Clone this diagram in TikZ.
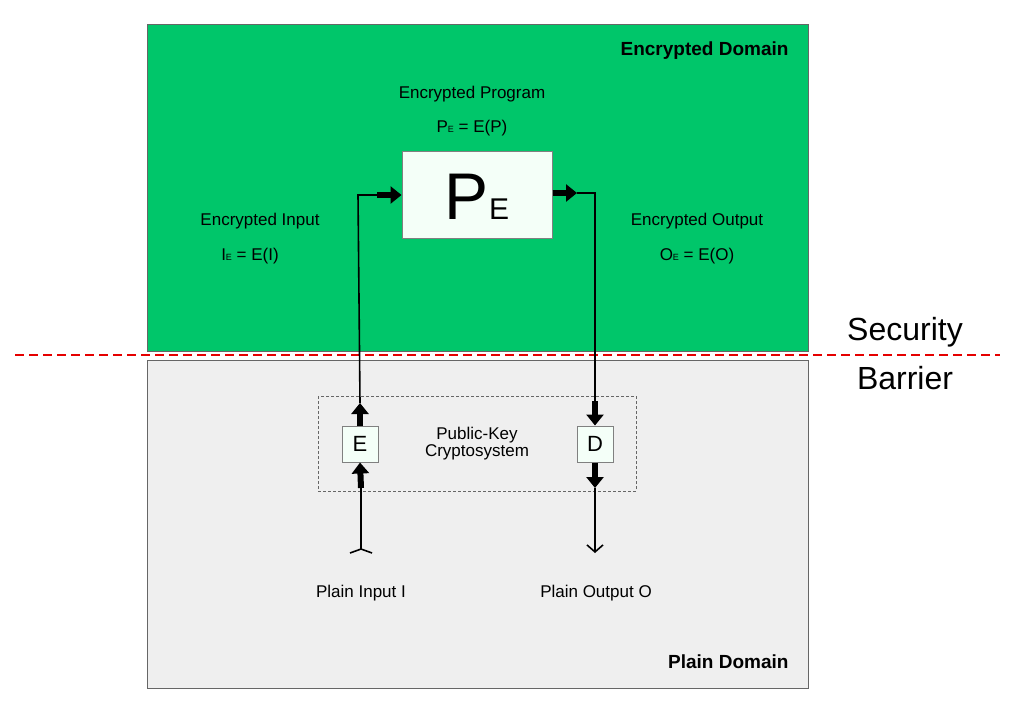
\documentclass[tikz,border=0pt]{standalone}
\usepackage{fontspec}
\setmainfont{Liberation Sans}
\usetikzlibrary{arrows.meta}
\definecolor{grn}{HTML}{00C66A}
\definecolor{pbox}{HTML}{F4FFF8}
\definecolor{plain}{HTML}{EFEFEF}
\begin{document}
\begin{tikzpicture}[x=1pt,y=-1pt,
  lbl/.style={font=\fontsize{17}{20}\selectfont},
  small/.style={font=\fontsize{11}{12}\selectfont},
  thin/.style={line width=1.6pt},
  fat/.style={line width=6pt,-{Triangle[length=11pt,width=17pt]}},
  key/.style={draw=black!50,fill=pbox,line width=1pt,minimum size=36pt,inner sep=0pt,font=\fontsize{22}{24}\selectfont}]
\useasboundingbox (0,0) rectangle (1024,710);
\fill[grn,draw=black!60,line width=1pt] (147,24) rectangle (808,351);
\fill[plain,draw=black!60,line width=1pt] (147,360) rectangle (808,688);
\draw[red!90!black,line width=1.6pt,dash pattern=on 9pt off 5pt] (15,355) -- (1000,355);
\node[font=\fontsize{32}{36}\selectfont] (sec) at (905,332) {Security};
\node[font=\fontsize{32}{36}\selectfont] (bar) at (905,378) {Barrier};
\node[anchor=east,font=\bfseries\fontsize{19}{22}\selectfont] (ed) at (792,51) {Encrypted Domain};
\node[anchor=east,font=\bfseries\fontsize{19}{22}\selectfont] (pd) at (792,662) {Plain Domain};
\node[draw=black!50,fill=pbox,line width=1pt,minimum width=150pt,minimum height=87pt,inner sep=0pt] (P) at (477,194.5) {};
\node at (477,197) {\fontsize{66}{66}\selectfont P\fontsize{30}{30}\selectfont E};
\node[lbl] (ep) at (472,94) {Encrypted Program};
\node[lbl] (epf) at (472,128) {P{\small E} = E(P)};
\node[lbl] (ei) at (260,221) {Encrypted Input};
\node[lbl] (eif) at (250,256) {I{\small E} = E(I)};
\node[lbl] (eo) at (697,221) {Encrypted Output};
\node[lbl] (eof) at (697,256) {O{\small E} = E(O)};
\node[lbl] (pi) at (361,593) {Plain Input I};
\node[lbl] (po) at (596,593) {Plain Output O};
\draw[black!60,line width=1pt,dash pattern=on 3pt off 2pt] (318,396) rectangle (636,491);
\node[lbl,align=center] (pk) at (477,444) {Public-Key\\[-3pt]Cryptosystem};
\node[key] (E) at (360,444) {E};
\node[key] (D) at (595,444) {D};
\coordinate (a1) at (360,403);
\coordinate (c1) at (358,195);
\coordinate (b1) at (377,195);
\coordinate (c2) at (595,193);
\coordinate (b2) at (577,193);
\coordinate (a2) at (595,401);
\coordinate (e0) at (361,488);
\coordinate (e1) at (361,549);
\coordinate (d0) at (595,488);
\coordinate (d1) at (595,553);
\draw[fat] (E.north) -- (a1);
\draw[thin] (a1) -- (c1) -- (b1);
\draw[fat] (b1) -- (P.west |- b1);
\draw[fat] (P.east |- b2) -- (b2);
\draw[thin] (b2) -- (c2) -- (a2);
\draw[fat] (a2) -- (D.north);
\draw[fat] (e0) -- (E.south);
\draw[thin] (e1) -- (e0);
\draw[thin] (350,553) -- (e1) -- (372,553);
\draw[fat] (D.south) -- (d0);
\draw[thin,-{Straight Barb[length=7pt,width=16pt]}] (d0) -- (d1);
\end{tikzpicture}
\end{document}
